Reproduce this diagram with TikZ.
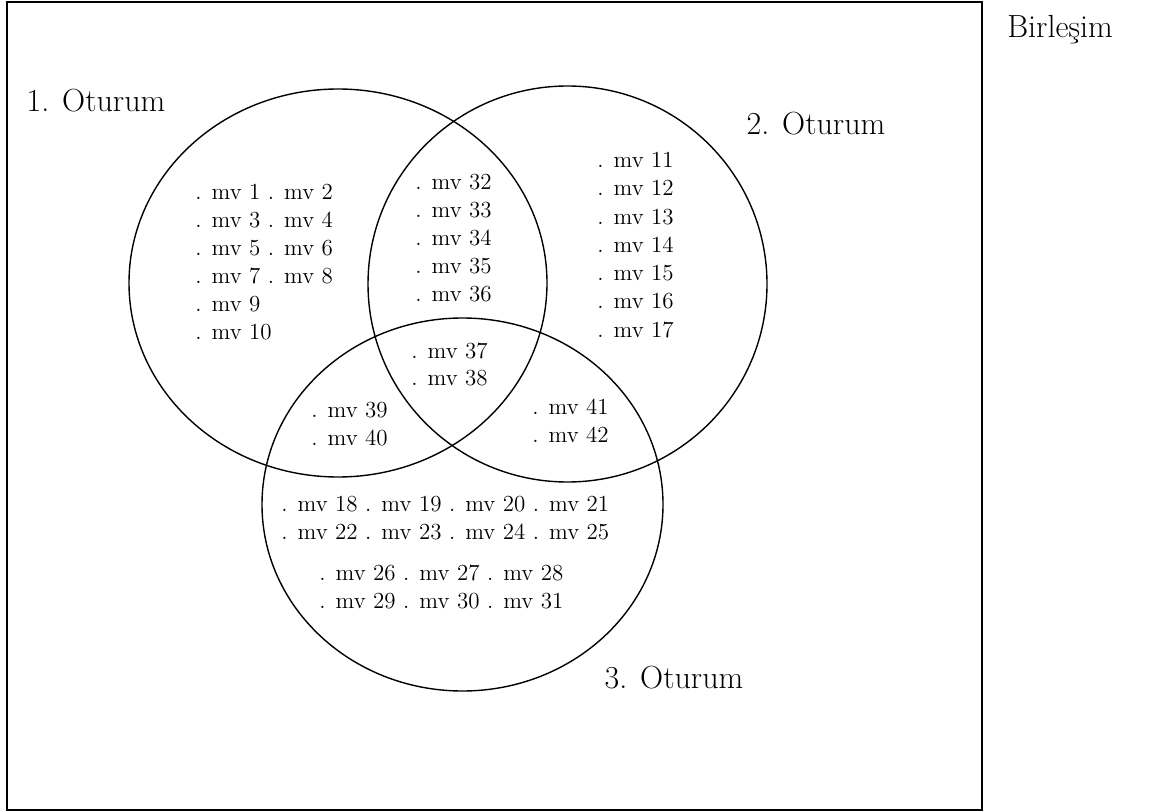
\documentclass[tikz,border=0pt]{standalone}
\begin{document}
\begin{tikzpicture}[x=0.5pt,y=-0.5pt,
  lbl/.style={anchor=west,inner sep=0pt,font=\fontsize{11.5}{13}\selectfont},
  setname/.style={inner sep=0pt,font=\fontsize{16}{19}\selectfont}]

 \useasboundingbox (0,0) rectangle (1150,812);

	%universe
 \draw[line width=0.9pt] (7,2) rectangle (982,810);
 \node[setname] (U) at (1060,30) {Birleşim};

	%sets
 \draw[line width=0.7pt] (338,283) ellipse [x radius=104.5pt, y radius=97pt];
 \draw[line width=0.7pt] (567.5,284) ellipse [x radius=99.75pt, y radius=99pt];
 \draw[line width=0.7pt] (462.5,504.5) ellipse [x radius=100.25pt, y radius=93.25pt];

 \node[setname] (S1) at (96,101) {1. Oturum};
 \node[setname] (S2) at (816,124) {2. Oturum};
 \node[setname] (S3) at (674,678) {3. Oturum};

	%only 1
 \def\dy{28};
    \foreach \i/\txt in {0/. mv 1 . mv 2,1/. mv 3 . mv 4,2/. mv 5 . mv 6,3/. mv 7 . mv 8,4/. mv 9,5/. mv 10}{
         \node[lbl] (a\i) at (195, 192 + \i*\dy) {\txt};
    }

	%only 2
    \foreach \i/\txt in {0/. mv 11,1/. mv 12,2/. mv 13,3/. mv 14,4/. mv 15,5/. mv 16,6/. mv 17}{
         \node[lbl] (b\i) at (597, 160 + \i*28.3) {\txt};
    }

	%1 and 2
    \foreach \i/\txt in {0/. mv 32,1/. mv 33,2/. mv 34,3/. mv 35,4/. mv 36}{
         \node[lbl] (ab\i) at (415, 182 + \i*\dy) {\txt};
    }

	%1, 2 and 3
    \foreach \i/\txt in {0/. mv 37,1/. mv 38}{
         \node[lbl] (abc\i) at (411, 350.5 + \i*\dy) {\txt};
    }

	%1 and 3
    \foreach \i/\txt in {0/. mv 39,1/. mv 40}{
         \node[lbl] (ac\i) at (311, 410 + \i*\dy) {\txt};
    }

	%2 and 3
    \foreach \i/\txt in {0/. mv 41,1/. mv 42}{
         \node[lbl] (bc\i) at (532, 406.5 + \i*\dy) {\txt};
    }

	%only 3
    \foreach \i/\txt in {0/. mv 18 . mv 19 . mv 20 . mv 21,1/. mv 22 . mv 23 . mv 24 . mv 25}{
         \node[lbl] (c\i) at (281, 504 + \i*\dy) {\txt};
    }
    \foreach \i/\txt in {0/. mv 26 . mv 27 . mv 28,1/. mv 29 . mv 30 . mv 31}{
         \node[lbl] (cc\i) at (319, 573 + \i*\dy) {\txt};
    }

\end{tikzpicture}
\end{document}
